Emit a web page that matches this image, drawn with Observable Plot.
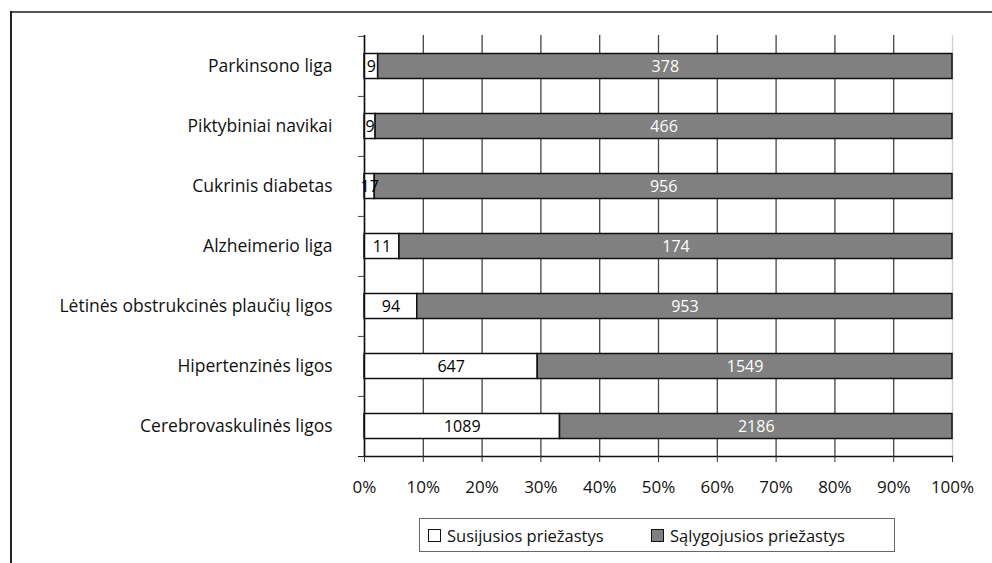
<!DOCTYPE html>
<html>
<head>
<meta charset="utf-8">
<script src="https://cdn.jsdelivr.net/npm/d3@7"></script>
<script src="https://cdn.jsdelivr.net/npm/@observablehq/plot@0.6"></script>
<style>
  html, body { margin: 0; padding: 0; background: #fff; }
  body { width: 992px; height: 563px; position: relative; overflow: hidden; font-family: "Open Sans", sans-serif; }
  #chart { position: absolute; left: 0; top: 0; }
  .frame-top { position: absolute; left: 10px; top: 11px; width: 990px; height: 2px; background: #555; }
  .frame-left { position: absolute; left: 10px; top: 11px; width: 2px; height: 560px; background: #222; }
  #legend { position: absolute; left: 419px; top: 518px; width: 474px; height: 32px; border: 1px solid #666; box-sizing: content-box; font-size: 16.5px; color: #111; }
  .item { position: absolute; top: 5px; display: flex; align-items: center; white-space: nowrap; }
  .sw { width: 11px; height: 11px; border: 1px solid #111; margin-right: 6px; }
</style>
</head>
<body>
<div class="frame-top"></div>
<div class="frame-left"></div>
<div id="chart"></div>
<div id="legend">
  <div class="item" style="left:8px"><span class="sw" style="background:#fff"></span><span id="l0"></span></div>
  <div class="item" style="left:231px"><span class="sw" style="background:#808080"></span><span id="l1"></span></div>
</div>
<script>
const categories = [
  "Parkinsono liga",
  "Piktybiniai navikai",
  "Cukrinis diabetas",
  "Alzheimerio liga",
  "Lėtinės obstrukcinės plaučių ligos",
  "Hipertenzinės ligos",
  "Cerebrovaskulinės ligos"
];
const seriesNames = ["Susijusios priežastys", "Sąlygojusios priežastys"];
const susijusios = [9, 9, 17, 11, 94, 647, 1089];
const salygojusios = [378, 466, 956, 174, 953, 1549, 2186];
const xTicks = [0, 0.1, 0.2, 0.3, 0.4, 0.5, 0.6, 0.7, 0.8, 0.9, 1];
const seriesColors = ["#ffffff", "#808080"];
const labelColors = ["#000000", "#ffffff"];

const data = [];
categories.forEach((c, i) => {
  data.push({cause: c, type: seriesNames[0], s: 0, value: susijusios[i]});
  data.push({cause: c, type: seriesNames[1], s: 1, value: salygojusios[i]});
});

document.getElementById("l0").textContent = seriesNames[0];
document.getElementById("l1").textContent = seriesNames[1];

const W = 992, H = 500, mTop = 35, mBottom = 44, mLeft = 364, mRight = 40;
const bw = (H - mTop - mBottom) / categories.length;

const chart = Plot.plot({
  width: W,
  height: H,
  marginTop: mTop,
  marginBottom: mBottom,
  marginLeft: mLeft,
  marginRight: mRight,
  style: {fontFamily: "Open Sans, sans-serif", fontSize: "16px", color: "#111", background: "transparent"},
  x: {domain: [0, 1]},
  y: {domain: categories, padding: 0},
  color: {type: "identity"},
  marks: [
    Plot.ruleX(xTicks.slice(0, -1), {stroke: "#444", strokeWidth: 1.3}),
    Plot.ruleX([1], {stroke: "#cfcfcf", strokeWidth: 1.3}),
    Plot.barX(data, Plot.stackX({
      x: "value", y: "cause", offset: "normalize",
      fill: d => seriesColors[d.s], stroke: "#111", strokeWidth: 1.5,
      insetTop: 17.5, insetBottom: 17.5, insetLeft: 0, insetRight: 0
    })),
    Plot.text(data, Plot.stackX({
      x: "value", y: "cause", offset: "normalize", text: d => String(d.value),
      fill: d => labelColors[d.s], fontSize: 16
    })),
    Plot.ruleX([0], {stroke: "#111", strokeWidth: 1.5}),
    Plot.axisY({tickSize: 0, tickPadding: 32, fontSize: 17.5, label: null}),
    Plot.axisY({tickSize: 6, text: null, dy: -bw / 2, stroke: "#444", label: null}),
    Plot.axisY({ticks: [categories[categories.length - 1]], tickSize: 6, text: null, dy: bw / 2, stroke: "#111", label: null}),
    Plot.frame({anchor: "bottom", stroke: "#111", strokeWidth: 1.5}),
    Plot.axisX({ticks: xTicks, tickSize: 6, tickPadding: 18, tickFormat: d3.format(".0%"), fontSize: 17, stroke: "#333", label: null})
  ]
});
document.getElementById("chart").appendChild(chart);
</script>
</body>
</html>
